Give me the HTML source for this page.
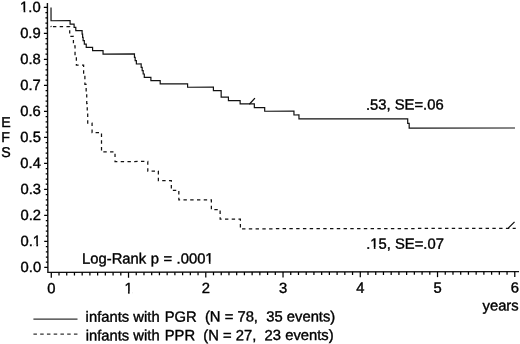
<!DOCTYPE html>
<html><head><meta charset="utf-8"><title>EFS</title>
<style>
html,body{margin:0;padding:0;background:#fff;}
svg{display:block;}
text{font-family:"Liberation Sans",sans-serif;font-size:14.8px;font-kerning:none;fill:#000;stroke:#000;stroke-width:0.38px;}
</style></head>
<body>
<svg width="520" height="344" viewBox="0 0 520 344">
<rect width="520" height="344" fill="#fff"/>
<g transform="rotate(-0.1 51 140)">
<path d="M47.65 3 V272.40 H518.8" fill="none" stroke="#111" stroke-width="1.4"/>
<path d="M47.65 267.40 h-3.6 M47.65 262.20 h-2.0 M47.65 257.00 h-2.0 M47.65 251.80 h-2.0 M47.65 246.60 h-2.0 M47.65 241.40 h-3.6 M47.65 236.20 h-2.0 M47.65 231.00 h-2.0 M47.65 225.80 h-2.0 M47.65 220.60 h-2.0 M47.65 215.40 h-3.6 M47.65 210.20 h-2.0 M47.65 205.00 h-2.0 M47.65 199.80 h-2.0 M47.65 194.60 h-2.0 M47.65 189.40 h-3.6 M47.65 184.20 h-2.0 M47.65 179.00 h-2.0 M47.65 173.80 h-2.0 M47.65 168.60 h-2.0 M47.65 163.40 h-3.6 M47.65 158.20 h-2.0 M47.65 153.00 h-2.0 M47.65 147.80 h-2.0 M47.65 142.60 h-2.0 M47.65 137.40 h-3.6 M47.65 132.20 h-2.0 M47.65 127.00 h-2.0 M47.65 121.80 h-2.0 M47.65 116.60 h-2.0 M47.65 111.40 h-3.6 M47.65 106.20 h-2.0 M47.65 101.00 h-2.0 M47.65 95.80 h-2.0 M47.65 90.60 h-2.0 M47.65 85.40 h-3.6 M47.65 80.20 h-2.0 M47.65 75.00 h-2.0 M47.65 69.80 h-2.0 M47.65 64.60 h-2.0 M47.65 59.40 h-3.6 M47.65 54.20 h-2.0 M47.65 49.00 h-2.0 M47.65 43.80 h-2.0 M47.65 38.60 h-2.0 M47.65 33.40 h-3.6 M47.65 28.20 h-2.0 M47.65 23.00 h-2.0 M47.65 17.80 h-2.0 M47.65 12.60 h-2.0 M47.65 7.40 h-3.6" stroke="#000" stroke-width="1.25" fill="none"/>
<path d="M51.05 272.40 v5.4 M58.77 272.40 v3.1 M66.50 272.40 v3.1 M74.22 272.40 v3.1 M81.95 272.40 v3.1 M89.67 272.40 v3.1 M97.40 272.40 v3.1 M105.12 272.40 v3.1 M112.85 272.40 v3.1 M120.58 272.40 v3.1 M128.30 272.40 v5.4 M136.02 272.40 v3.1 M143.75 272.40 v3.1 M151.47 272.40 v3.1 M159.20 272.40 v3.1 M166.93 272.40 v3.1 M174.65 272.40 v3.1 M182.38 272.40 v3.1 M190.10 272.40 v3.1 M197.82 272.40 v3.1 M205.55 272.40 v5.4 M213.27 272.40 v3.1 M221.00 272.40 v3.1 M228.73 272.40 v3.1 M236.45 272.40 v3.1 M244.18 272.40 v3.1 M251.90 272.40 v3.1 M259.62 272.40 v3.1 M267.35 272.40 v3.1 M275.07 272.40 v3.1 M282.80 272.40 v5.4 M290.52 272.40 v3.1 M298.25 272.40 v3.1 M305.98 272.40 v3.1 M313.70 272.40 v3.1 M321.43 272.40 v3.1 M329.15 272.40 v3.1 M336.88 272.40 v3.1 M344.60 272.40 v3.1 M352.32 272.40 v3.1 M360.05 272.40 v5.4 M367.78 272.40 v3.1 M375.50 272.40 v3.1 M383.23 272.40 v3.1 M390.95 272.40 v3.1 M398.68 272.40 v3.1 M406.40 272.40 v3.1 M414.12 272.40 v3.1 M421.85 272.40 v3.1 M429.57 272.40 v3.1 M437.30 272.40 v5.4 M445.03 272.40 v3.1 M452.75 272.40 v3.1 M460.48 272.40 v3.1 M468.20 272.40 v3.1 M475.93 272.40 v3.1 M483.65 272.40 v3.1 M491.38 272.40 v3.1 M499.10 272.40 v3.1 M506.82 272.40 v3.1 M514.55 272.40 v5.4" stroke="#000" stroke-width="1.25" fill="none"/>
<path d="M51.25 26.68 L69.90 26.68 L69.90 36.32 L73.60 36.32 L73.60 45.96 L75.20 45.96 L75.20 55.60 L76.50 55.60 L76.50 65.24 L83.75 65.24 L83.75 74.89 L85.00 74.89 L85.00 84.53 L86.25 84.53 L86.25 94.17 L86.80 94.17 L86.80 103.81 L87.30 103.81 L87.30 113.45 L87.75 113.45 L87.75 123.09 L92.10 123.09 L92.10 132.73 L101.50 132.73 L101.50 152.01 L115.00 152.01 L115.00 161.65 L147.75 161.65 L147.75 171.29 L158.30 171.29 L158.30 180.93 L171.25 180.93 L171.25 190.57 L178.75 190.57 L178.75 200.21 L211.25 200.21 L211.25 209.86 L220.00 209.86 L220.00 219.50 L240.25 219.50 L240.25 229.14" fill="none" stroke="#111" stroke-width="1.25" stroke-dasharray="3.4 3.35" stroke-dashoffset="4.85"/>
<path d="M50.7 26.5 h1.1" stroke="#111" stroke-width="1.25" fill="none"/>
<path d="M240.25 229.14 L515.60 229.14" fill="none" stroke="#111" stroke-width="1.25" stroke-dasharray="3.4 3.365" stroke-dashoffset="5.115"/>
<path d="M51.25 7.40 L51.25 20.75 L70.30 20.75 L70.30 24.09 L74.30 24.09 L74.30 27.42 L76.00 27.42 L76.00 30.76 L82.30 30.76 L82.30 34.10 L82.80 34.10 L82.80 37.43 L83.30 37.43 L83.30 40.77 L84.50 40.77 L84.50 44.11 L86.40 44.11 L86.40 47.45 L92.75 47.45 L92.75 50.78 L103.20 50.78 L103.20 54.12 L134.60 54.12 L134.60 57.46 L135.30 57.46 L135.30 60.79 L136.50 60.79 L136.50 64.13 L141.30 64.13 L141.30 67.47 L142.30 67.47 L142.30 70.81 L143.30 70.81 L143.30 74.14 L144.40 74.14 L144.40 77.48 L151.00 77.48 L151.00 80.82 L160.30 80.82 L160.30 84.16 L187.70 84.16 L187.70 87.49 L213.50 87.49 L213.50 90.83 L221.25 90.83 L221.25 97.50 L228.50 97.50 L228.50 100.84 L240.20 100.84 L240.20 104.18 L254.40 104.18 L254.40 107.90 L264.75 107.90 L264.75 111.60 L294.00 111.60 L294.00 115.40 L299.00 115.40 L299.00 119.40 L407.75 119.40 L407.75 124.00 L409.20 124.00 L409.20 128.80 L515.00 128.80" fill="none" stroke="#111" stroke-width="1.2" stroke-linejoin="miter"/>
<path d="M249.4 104.6 L255 98.5 M508.1 228.9 L514.4 222.7" stroke="#111" stroke-width="1.3" fill="none"/>
<path d="M33.1 319.1 H77.2" stroke="#333" stroke-width="1.2" fill="none"/>
<path d="M33.1 334.1 H77.2" stroke="#333" stroke-width="1.2" stroke-dasharray="3.5 3.25" fill="none"/>
<text x="40.9" y="271.90" text-anchor="end">0.0</text>
<text x="40.9" y="245.90" text-anchor="end">0.1</text>
<text x="40.9" y="219.90" text-anchor="end">0.2</text>
<text x="40.9" y="193.90" text-anchor="end">0.3</text>
<text x="40.9" y="167.90" text-anchor="end">0.4</text>
<text x="40.9" y="141.90" text-anchor="end">0.5</text>
<text x="40.9" y="115.90" text-anchor="end">0.6</text>
<text x="40.9" y="89.90" text-anchor="end">0.7</text>
<text x="40.9" y="63.90" text-anchor="end">0.8</text>
<text x="40.9" y="37.90" text-anchor="end">0.9</text>
<text x="40.9" y="11.90" text-anchor="end">1.0</text>
<text x="51.05" y="293.3" text-anchor="middle">0</text>
<text x="128.30" y="293.3" text-anchor="middle">1</text>
<text x="205.55" y="293.3" text-anchor="middle">2</text>
<text x="282.80" y="293.3" text-anchor="middle">3</text>
<text x="360.05" y="293.3" text-anchor="middle">4</text>
<text x="437.30" y="293.3" text-anchor="middle">5</text>
<text x="514.55" y="293.3" text-anchor="middle">6</text>
<text x="1.3" y="126.8" style="font-size:14.2px">E</text><text x="1.3" y="141.8" style="font-size:14.2px">F</text><text x="1.3" y="156.8" style="font-size:14.2px">S</text>
<text x="518.4" y="311.4" text-anchor="end">years</text>
<text x="366" y="110.2">.53, SE=.06</text>
<text x="366" y="249.4">.15, SE=.07</text>
<text x="81.8" y="263.7" style="word-spacing:0.4px">Log-Rank p = .0001</text>
<text x="85.3" y="321.9" xml:space="preserve">infants with <tspan dx="0.9">PGR  (N = 78,  35 events)</tspan></text>
<text x="85.3" y="340.5" xml:space="preserve">infants with <tspan dx="0.9">PPR  (N = 27,  23 events)</tspan></text>
<rect x="33.15" y="244.15" width="3.03" height="3.1" fill="#fff"/><rect x="37.87" y="244.15" width="3.00" height="3.1" fill="#fff"/><rect x="20.82" y="10.15" width="3.03" height="3.1" fill="#fff"/><rect x="25.54" y="10.15" width="3.00" height="3.1" fill="#fff"/><rect x="124.68" y="291.55" width="3.03" height="3.1" fill="#fff"/><rect x="129.40" y="291.55" width="3.00" height="3.1" fill="#fff"/><rect x="370.61" y="247.65" width="3.03" height="3.1" fill="#fff"/><rect x="375.33" y="247.65" width="3.00" height="3.1" fill="#fff"/><rect x="205.66" y="261.95" width="3.03" height="3.1" fill="#fff"/><rect x="210.38" y="261.95" width="3.00" height="3.1" fill="#fff"/>
</g>
</svg>
</body></html>
